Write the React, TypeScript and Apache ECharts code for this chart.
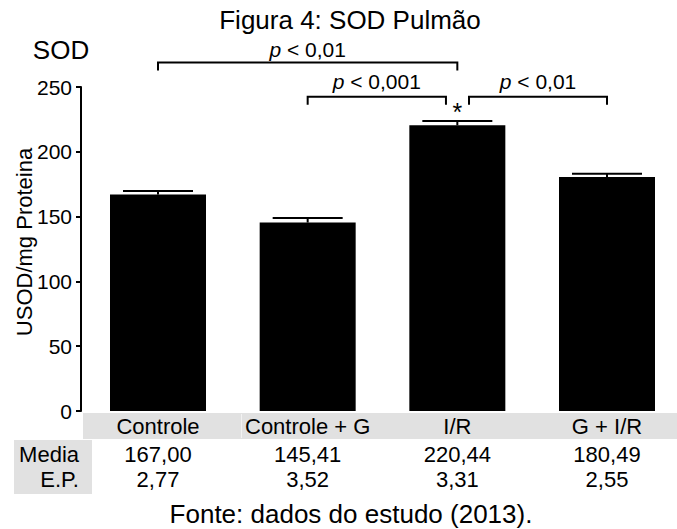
import React, { useEffect, useRef } from "react";
import * as echarts from "echarts";

// Groups and their measurements (USOD/mg proteína)
const categories = ["Controle", "Controle + G", "I/R", "G + I/R"];
const means = [167.0, 145.41, 220.44, 180.49];
const stdErrors = [2.77, 3.52, 3.31, 2.55];

// Y axis ticks
const yMin = 0;
const yMax = 250;
const yStep = 50;

// Pairwise comparisons: bracket ends (group positions), height (axis units) and text
const bracketFrom = [0, 1, 2.078];
const bracketTo = [2, 1.924, 3];
const bracketLevel = [269, 242.5, 242.5];
const bracketLabels = ["p < 0,01", "p < 0,001", "p < 0,01"];
const bracketLabelLift = [13, 15, 15];

// Group flagged as significant
const flaggedGroup = 2;

const FONT = "'Liberation Sans', Arial, Helvetica, sans-serif";
const fmt = (v: number) => v.toFixed(2).replace(".", ",");

export default function App() {
  const ref = useRef<HTMLDivElement>(null);

  useEffect(() => {
    if (!ref.current) return;
    const chart = echarts.init(ref.current, null, { renderer: "svg" });

    const option: any = {
      animation: false,
      backgroundColor: "#ffffff",
      textStyle: { fontFamily: FONT, color: "#000" },
      grid: { left: 81, top: 87, width: 596, height: 324 },
      xAxis: {
        type: "value",
        min: -0.5145,
        max: 3.4677,
        show: false,
        splitLine: { show: false },
      },
      yAxis: {
        type: "value",
        min: yMin,
        max: yMax,
        interval: yStep,
        axisLine: { show: true, onZero: false, lineStyle: { color: "#000", width: 2 } },
        axisTick: { show: true, length: 5, lineStyle: { color: "#000", width: 2 } },
        axisLabel: { fontSize: 21, color: "#000", margin: 9, fontFamily: FONT },
        splitLine: { show: false },
      },
      graphic: [
        {
          type: "rect",
          shape: { x: 83, y: 413, width: 594, height: 26 },
          style: { fill: "#e1e1e1" },
          z: 0,
        },
        {
          type: "line",
          shape: { x1: 241.5, y1: 414, x2: 241.5, y2: 438 },
          style: { stroke: "#f2f2f2", lineWidth: 1 },
          z: 1,
        },
        {
          type: "rect",
          shape: { x: 14, y: 440, width: 78, height: 54 },
          style: { fill: "#e1e1e1" },
          z: 0,
        },
        {
          type: "text",
          x: 79,
          y: 454,
          style: { text: "Media", fontSize: 22, fontFamily: FONT, fill: "#000", align: "right", verticalAlign: "middle" },
          z: 2,
        },
        {
          type: "text",
          x: 79,
          y: 479,
          style: { text: "E.P.", fontSize: 22, fontFamily: FONT, fill: "#000", align: "right", verticalAlign: "middle" },
          z: 2,
        },
        {
          type: "text",
          x: 24,
          y: 242,
          rotation: Math.PI / 2,
          style: { text: "USOD/mg Proteina", fontSize: 22, fontFamily: FONT, fill: "#000", align: "center", verticalAlign: "middle" },
        },
        {
          type: "text",
          x: 350,
          y: 20,
          style: { text: "Figura 4: SOD Pulmão", fontSize: 26, fontFamily: FONT, fill: "#000", align: "center", verticalAlign: "middle" },
        },
        {
          type: "text",
          x: 61,
          y: 50,
          style: { text: "SOD", fontSize: 26, fontFamily: FONT, fill: "#000", align: "center", verticalAlign: "middle" },
        },
        {
          type: "text",
          x: 351,
          y: 514,
          style: { text: "Fonte: dados do estudo (2013).", fontSize: 26, fontFamily: FONT, fill: "#000", align: "center", verticalAlign: "middle" },
        },
      ],
      series: [
        {
          type: "bar",
          data: means.map((m, i) => [i, m]),
          barWidth: 96,
          itemStyle: { color: "#000" },
          z: 2,
        },
        {
          // error bars (mean + standard error)
          type: "custom",
          z: 3,
          data: means.map((m, i) => [i, m, stdErrors[i]]),
          encode: { x: 0, y: 1 },
          renderItem: (params: any, api: any) => {
            const i = api.value(0);
            const m = api.value(1);
            const e = api.value(2);
            const base = api.coord([i, m]);
            const top = api.coord([i, m + e]);
            const half = 35;
            const children: any[] = [
              { type: "line", shape: { x1: base[0], y1: base[1], x2: top[0], y2: top[1] }, style: { stroke: "#000", lineWidth: 2 } },
              { type: "line", shape: { x1: top[0] - half, y1: top[1], x2: top[0] + half, y2: top[1] }, style: { stroke: "#000", lineWidth: 2 } },
            ];
            if (params.dataIndex === flaggedGroup) {
              children.push({
                type: "text",
                x: top[0],
                y: top[1] - 9,
                style: { text: "*", fontSize: 25, fontFamily: FONT, fill: "#000", align: "center", verticalAlign: "middle" },
              });
            }
            return { type: "group", children };
          },
        },
        {
          // significance brackets
          type: "custom",
          z: 3,
          data: bracketFrom.map((f, i) => [f, bracketTo[i], bracketLevel[i]]),
          encode: { x: 0, y: 2 },
          renderItem: (params: any, api: any) => {
            const idx = params.dataIndex;
            const a = api.coord([api.value(0), api.value(2)]);
            const b = api.coord([api.value(1), api.value(2)]);
            const leg = 8;
            return {
              type: "group",
              children: [
                {
                  type: "polyline",
                  shape: { points: [[a[0], a[1] + leg], [a[0], a[1]], [b[0], b[1]], [b[0], b[1] + leg]] },
                  style: { stroke: "#000", lineWidth: 2, fill: null },
                },
                {
                  type: "text",
                  x: (a[0] + b[0]) / 2,
                  y: a[1] - bracketLabelLift[idx],
                  style: {
                    text: "{i|p}" + bracketLabels[idx].slice(1),
                    fontSize: 21,
                    fontFamily: FONT,
                    fill: "#000",
                    align: "center",
                    verticalAlign: "middle",
                    rich: { i: { fontStyle: "italic", fontSize: 21, fontFamily: FONT, fill: "#000" } },
                  },
                },
              ],
            };
          },
        },
        {
          // table under the plot: group names, means and standard errors
          type: "custom",
          z: 4,
          data: means.map((m, i) => [i, 0]),
          encode: { x: 0, y: 1 },
          renderItem: (params: any, api: any) => {
            const i = params.dataIndex;
            const x = api.coord([api.value(0), 0])[0];
            const txt = (text: string, y: number) => ({
              type: "text",
              x,
              y,
              style: { text, fontSize: 22, fontFamily: FONT, fill: "#000", align: "center", verticalAlign: "middle" },
            });
            return {
              type: "group",
              children: [txt(categories[i], 426), txt(fmt(means[i]), 454), txt(fmt(stdErrors[i]), 479)],
            };
          },
        },
      ],
    };

    chart.setOption(option);
    return () => chart.dispose();
  }, []);

  return (
    <div
      ref={ref}
      style={{ position: "fixed", left: 0, top: 0, width: 677, height: 529, background: "#fff" }}
    />
  );
}
